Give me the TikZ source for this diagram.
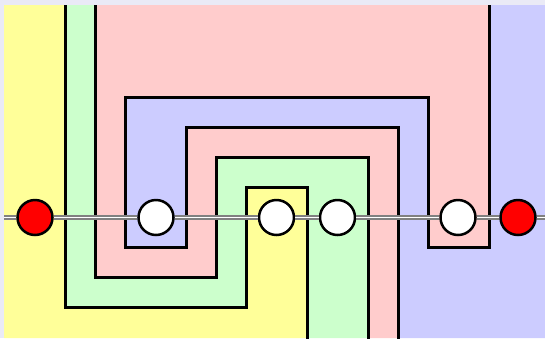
\documentclass[tikz,border=0pt]{standalone}
\definecolor{bgpage}{RGB}{234,234,246}
\definecolor{zoneY}{RGB}{255,255,153}
\definecolor{zoneG}{RGB}{204,255,204}
\definecolor{zoneR}{RGB}{255,204,204}
\definecolor{zoneB}{RGB}{204,204,255}
\begin{document}
\begin{tikzpicture}[x=1pt,y=-1pt,
  regionY/.style={fill=zoneY},
  regionG/.style={fill=zoneG},
  regionR/.style={fill=zoneR},
  regionB/.style={fill=zoneB},
  border/.style={draw=black,line width=3pt,line join=miter},
  wire/.style={draw=gray,double=white,line width=1.6pt,double distance=1.3pt},
  dot/.style={circle,draw=black,line width=2.5pt,minimum size=35pt,inner sep=0pt},
  enddot/.style={dot,fill=red},
  innerdot/.style={dot,fill=white}]
% page and background
\fill[bgpage] (0,0) rectangle (545,338);
\useasboundingbox (0,0) rectangle (545,338);
% coloured regions
\fill[regionY] (4,5) -- (65,5) -- (65,307) -- (246,307) -- (246,187) -- (307,187) -- (307,338) -- (4,338) -- cycle;
\fill[regionG] (65,5) -- (95,5) -- (95,277) -- (216,277) -- (216,157) -- (368,157) -- (368,338) -- (307,338) -- (307,187) -- (246,187) -- (246,307) -- (65,307) -- cycle;
\fill[regionR] (95,5) -- (489,5) -- (489,247) -- (428,247) -- (428,97) -- (125,97) -- (125,247) -- (186,247) -- (186,127) -- (398,127) -- (398,338) -- (368,338) -- (368,157) -- (216,157) -- (216,277) -- (95,277) -- cycle;
\fill[regionB] (489,5) -- (545,5) -- (545,338) -- (398,338) -- (398,127) -- (186,127) -- (186,247) -- (125,247) -- (125,97) -- (428,97) -- (428,247) -- (489,247) -- cycle;
% borders between regions
\draw[border] (65,5) -- (65,307) -- (246,307) -- (246,187) -- (307,187) -- (307,339);
\draw[border] (95,5) -- (95,277) -- (216,277) -- (216,157) -- (368,157) -- (368,339);
\draw[border] (489,5) -- (489,247) -- (428,247) -- (428,97) -- (125,97) -- (125,247) -- (186,247) -- (186,127) -- (398,127) -- (398,339);
% points on the line
\coordinate (wl) at (4,217.5);
\coordinate (wr) at (545,217.5);
\node[enddot]   (r1) at (35,217.5) {};
\node[innerdot] (w1) at (156,217.5) {};
\node[innerdot] (w2) at (276.5,217.5) {};
\node[innerdot] (w3) at (337.5,217.5) {};
\node[innerdot] (w4) at (458,217.5) {};
\node[enddot]   (r2) at (518,217.5) {};
% the line
\draw[wire] (wl) -- (r1);
\draw[wire] (r1) -- (w1);
\draw[wire] (w1) -- (w2);
\draw[wire] (w2) -- (w3);
\draw[wire] (w3) -- (w4);
\draw[wire] (w4) -- (r2);
\draw[wire] (r2) -- (wr);
\end{tikzpicture}
\end{document}
